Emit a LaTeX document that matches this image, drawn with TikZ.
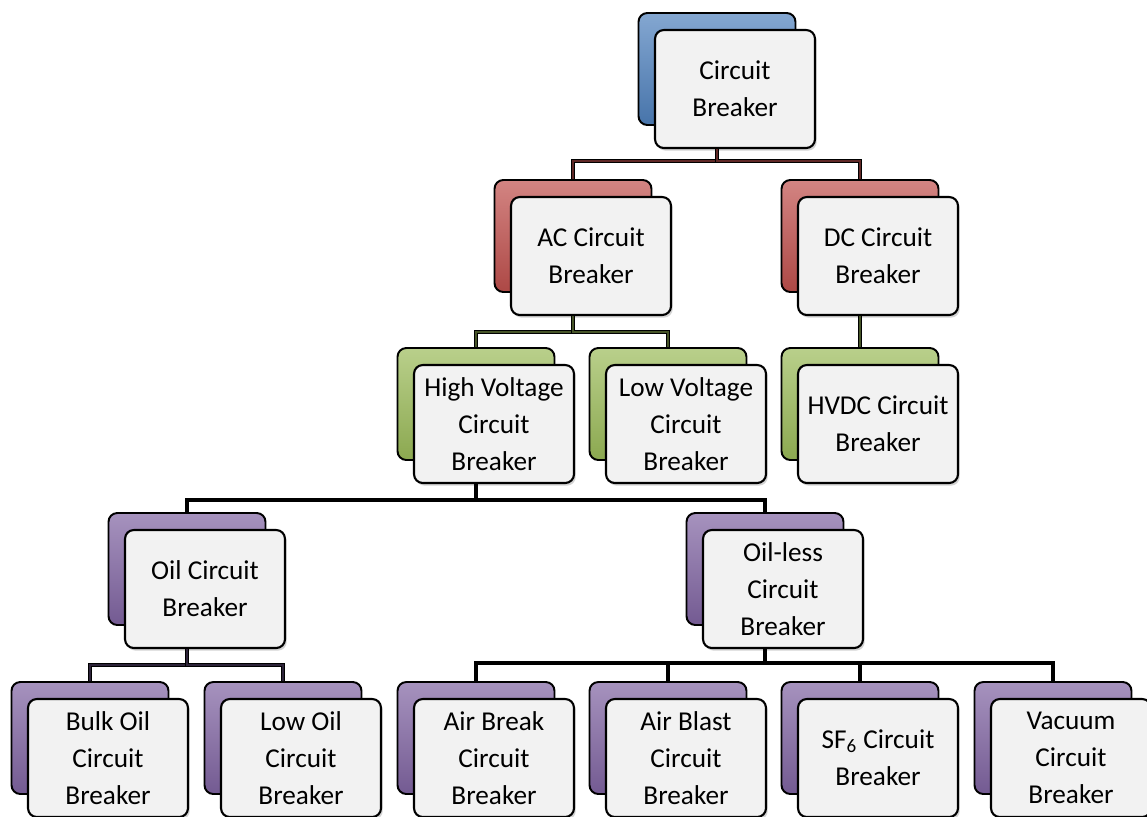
\documentclass[tikz,border=0pt]{standalone}
\usepackage{fontspec}
\setmainfont{Carlito}
\usepackage{xcolor}
\usepackage{tikz}
\usetikzlibrary{shadows}

\definecolor{cbblue}{HTML}{4F81BD}
\definecolor{cbred}{HTML}{C0504D}
\definecolor{cbgreen}{HTML}{9BBB59}
\definecolor{cbpurple}{HTML}{8064A2}

% one box: coloured card behind, white card with the label in front
\newcommand\cbox[5]{%
  \node[backcard=#4] (#1-b) at (#2,#3+56) {};
  \node[frontcard] (#1) at (#2+18,#3+76) {#5};
}

\begin{document}
\begin{tikzpicture}[x=0.02cm,y=-0.02cm,
    backcard/.style={draw=black,line width=1.1pt,rounded corners=5pt,
      top color=#1!70!white,bottom color=#1!90!black,
      minimum width=3.14cm,minimum height=2.24cm,inner sep=0pt},
    frontcard/.style={draw=black,line width=1.2pt,rounded corners=5pt,
      fill=black!5,drop shadow={opacity=0.35,shadow xshift=1pt,shadow yshift=-1.5pt},
      minimum width=3.2cm,minimum height=2.36cm,inner sep=0pt,
      align=center,font=\fontsize{15.5}{21}\selectfont},
    link/.style={draw=black,line width=0.8pt,double=#1,double distance=1.1pt}]
  \useasboundingbox (0,0) rectangle (1147,816);

  % top
  \cbox{root}{717}{13}{cbblue}{Circuit\\Breaker}

  % AC / DC
  \cbox{ac}{573}{180}{cbred}{AC Circuit\\Breaker}
  \cbox{dc}{860}{180}{cbred}{DC Circuit\\Breaker}

  % voltage level
  \cbox{hv}{476}{348}{cbgreen}{High Voltage\\Circuit\\Breaker}
  \cbox{lv}{668}{348}{cbgreen}{Low Voltage\\Circuit\\Breaker}
  \cbox{hvdc}{860}{348}{cbgreen}{HVDC Circuit\\Breaker}

  % oil / oil-less
  \cbox{oil}{187}{513}{cbpurple}{Oil Circuit\\Breaker}
  \cbox{oilless}{765}{513}{cbpurple}{Oil-less\\Circuit\\Breaker}

  % bottom row
  \cbox{bulk}{90}{682}{cbpurple}{Bulk Oil\\Circuit\\Breaker}
  \cbox{lowoil}{283}{682}{cbpurple}{Low Oil\\Circuit\\Breaker}
  \cbox{airbreak}{476}{682}{cbpurple}{Air Break\\Circuit\\Breaker}
  \cbox{airblast}{668}{682}{cbpurple}{Air Blast\\Circuit\\Breaker}
  \cbox{sf}{860}{682}{cbpurple}{SF\textsubscript{6} Circuit\\Breaker}
  \cbox{vacuum}{1053}{682}{cbpurple}{Vacuum\\Circuit\\Breaker}

  % connectors
  \draw[link=cbred!50!black] (root.south -| root-b.south) -- ++(0,12) -| (ac-b.north);
  \draw[link=cbred!50!black] (root.south -| root-b.south) -- ++(0,12) -| (dc-b.north);
  \draw[link=cbgreen!45!black] (ac.south -| ac-b.south) -- ++(0,16) -| (hv-b.north);
  \draw[link=cbgreen!45!black] (ac.south -| ac-b.south) -- ++(0,16) -| (lv-b.north);
  \draw[link=cbgreen!45!black] (dc.south -| dc-b.south) -- (hvdc-b.north);
  \draw[link=black] (hv.south -| hv-b.south) -- ++(0,16) -| (oil-b.north);
  \draw[link=black] (hv.south -| hv-b.south) -- ++(0,16) -| (oilless-b.north);
  \foreach \k in {bulk,lowoil}
    \draw[link=cbpurple!35!black] (oil.south -| oil-b.south) -- ++(0,16) -| (\k-b.north);
  \foreach \k in {airbreak,airblast,sf,vacuum}
    \draw[link=black] (oilless.south -| oilless-b.south) -- ++(0,14) -| (\k-b.north);
\end{tikzpicture}
\end{document}
